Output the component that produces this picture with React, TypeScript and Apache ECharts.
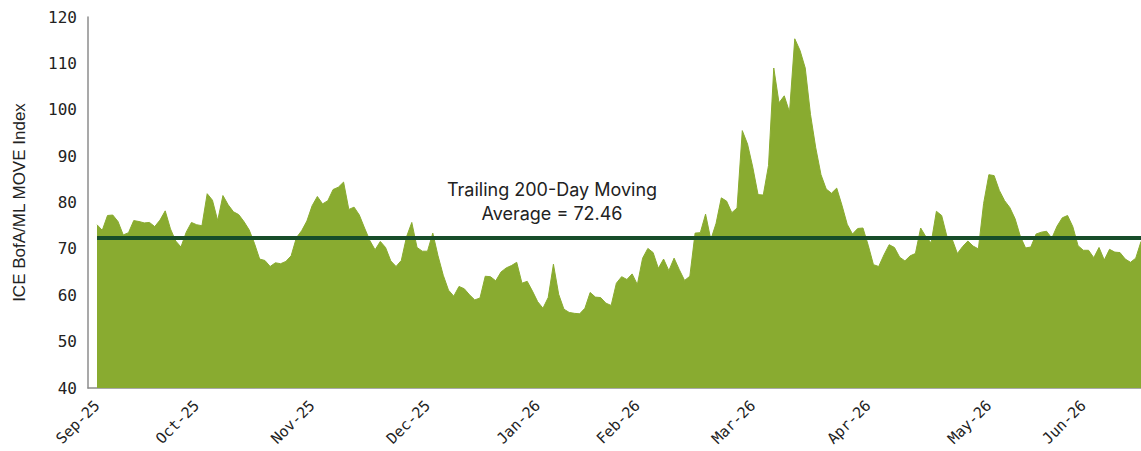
import React, { useEffect, useRef } from "react";
import * as echarts from "echarts";

const moveIndex: number[] = [
  75.2, 74.0, 77.2, 77.3, 75.9, 73.0, 73.5, 76.1, 75.9, 75.6,
  75.7, 74.8, 76.2, 78.2, 74.3, 71.7, 70.4, 73.6, 75.7, 75.2,
  75.0, 81.9, 80.5, 76.1, 81.5, 79.5, 78.0, 77.4, 75.9, 74.1,
  71.2, 67.8, 67.5, 66.2, 67.0, 66.8, 67.3, 68.5, 72.4, 73.9,
  76.0, 79.3, 81.3, 79.7, 80.4, 82.8, 83.3, 84.4, 78.5, 79.0,
  77.3, 74.5, 71.8, 69.8, 71.6, 70.3, 67.4, 66.2, 67.5, 72.6,
  75.7, 70.3, 69.5, 69.5, 73.4, 68.5, 64.3, 61.1, 59.8, 61.9,
  61.4, 60.1, 59.0, 59.4, 64.1, 64.0, 63.1, 65.0, 65.9, 66.4,
  67.1, 62.6, 63.0, 60.9, 58.6, 57.2, 59.5, 66.7, 60.2, 57.0,
  56.3, 56.1, 56.0, 57.2, 60.6, 59.6, 59.5, 58.3, 57.8, 62.6,
  64.0, 63.4, 64.6, 62.3, 68.0, 70.1, 69.2, 65.8, 67.8, 65.3,
  68.0, 65.5, 63.2, 64.1, 73.4, 73.5, 77.5, 72.0, 75.5, 81.0,
  80.3, 77.8, 78.8, 95.5, 92.6, 87.6, 81.7, 81.6, 88.0, 109.0,
  101.5, 103.0, 99.5, 115.3, 112.8, 109.0, 99.0, 91.8, 86.0, 82.9,
  82.0, 83.1, 79.4, 75.3, 73.2, 74.4, 74.5, 70.8, 66.6, 66.2,
  68.7, 70.9, 70.3, 68.2, 67.4, 68.5, 69.0, 74.5, 72.6, 71.3,
  78.1, 77.2, 72.7, 72.1, 69.0, 70.5, 71.7, 70.6, 70.0, 79.8,
  86.0, 85.8, 82.6, 80.4, 78.9, 76.5, 72.7, 70.2, 70.4, 73.2,
  73.6, 73.8, 72.3, 74.9, 76.7, 77.2, 74.8, 70.7, 69.7, 69.7,
  68.1, 70.3, 67.6, 69.9, 69.3, 69.2, 67.8, 67.1, 68.0, 71.6,
];

const monthLabels: string[] = [
  "Sep-25", "Oct-25", "Nov-25", "Dec-25", "Jan-26",
  "Feb-26", "Mar-26", "Apr-26", "May-26", "Jun-26",
];
const monthStartIdx: number[] = [0, 19, 41, 63, 84, 103, 125, 147, 170, 188];

const movingAverage = 72.46;
const yTicks = { min: 40, max: 120, interval: 10 };

export default function App() {
  const ref = useRef<HTMLDivElement>(null);

  useEffect(() => {
    if (!ref.current) return;
    const chart = echarts.init(ref.current, undefined, { renderer: "svg" });
    const seriesData = moveIndex.map((v, i) => [i, v]);
    const lastIdx = moveIndex.length - 1;

    chart.setOption({
      animation: false,
      grid: { left: 88, right: 0, top: 17, bottom: 63, containLabel: false },
      xAxis: {
        type: "value",
        min: -1.72,
        max: lastIdx,
        axisLine: { show: true, onZero: false, lineStyle: { color: "#8c8c8c", width: 1.5 } },
        axisTick: { show: false },
        splitLine: { show: false },
        axisLabel: {
          customValues: monthStartIdx,
          rotate: 45,
          margin: 15,
          color: "#222",
          fontFamily: "DejaVu Sans Mono",
          fontSize: 15,
          formatter: (v: number) => {
            const k = monthStartIdx.indexOf(Math.round(v));
            return k >= 0 ? monthLabels[k] : "";
          },
        },
      },
      yAxis: {
        type: "value",
        min: yTicks.min,
        max: yTicks.max,
        interval: yTicks.interval,
        name: "ICE BofA/ML MOVE Index",
        nameLocation: "middle",
        nameGap: 60,
        nameRotate: 90,
        nameTextStyle: {
          color: "#222",
          fontFamily: "Liberation Sans",
          fontSize: 17,
        },
        axisLine: { show: true, onZero: false, lineStyle: { color: "#8c8c8c", width: 1.5 } },
        axisTick: { show: false },
        splitLine: { show: false },
        axisLabel: {
          color: "#222",
          fontFamily: "DejaVu Sans Mono",
          fontSize: 16,
          margin: 11,
        },
      },
      series: [
        {
          type: "line",
          data: seriesData,
          symbol: "none",
          lineStyle: { color: "#89ab30", width: 1 },
          areaStyle: { color: "#89ab30", opacity: 1, origin: "start" },
          itemStyle: { color: "#89ab30" },
          markLine: {
            silent: true,
            symbol: "none",
            label: { show: false },
            lineStyle: { color: "#174d2a", width: 4, type: "solid" },
            data: [[{ coord: [0, movingAverage] }, { coord: [lastIdx, movingAverage] }]],
          },
        },
      ],
      graphic: [
        {
          type: "text",
          x: 552,
          y: 177,
          style: {
            text: "Trailing 200-Day Moving\nAverage = " + movingAverage.toFixed(2),
            fill: "#222",
            font: "18px Inter, sans-serif",
            textAlign: "center",
            textVerticalAlign: "top",
            lineHeight: 24,
          },
        },
      ],
    });
    return () => chart.dispose();
  }, []);

  return (
    <div
      ref={ref}
      style={{ position: "fixed", left: 0, top: 0, width: 1141, height: 451, background: "#fff" }}
    />
  );
}
